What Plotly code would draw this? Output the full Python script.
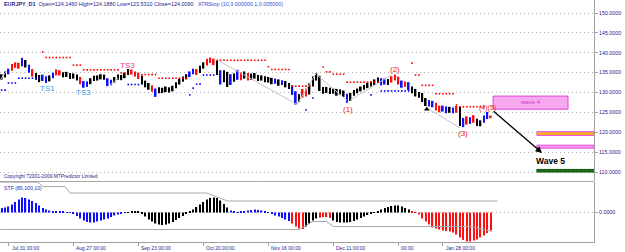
import plotly.graph_objects as go

# ---------------- data ----------------
tick_idx = [2, 21, 40, 59, 78, 97, 116, 129]
tick_labels = ["Jul 31 00:00", "Aug 27 00:00", "Sep 23 00:00", "Oct 20 00:00",
               "Nov 16 00:00", "Dec 11 00:00", "00:00", "Jan 28 00:00"]

price_ticks = [110, 115, 120, 125, 130, 135, 140, 145, 150]

highs = [134.6,135.3,136.0,137.2,137.6,137.5,138.7,138.2,137.0,135.9,
         134.9,134.4,134.5,134.1,134.3,135.0,135.8,135.6,135.1,135.2,
         134.9,134.8,134.5,133.9,132.9,132.8,133.6,134.2,134.3,134.6,
         134.5,133.6,133.2,133.9,134.5,134.4,135.0,135.9,135.8,135.3,
         135.0,134.2,133.0,132.4,131.8,131.0,131.3,131.2,131.5,131.3,
         131.7,132.6,133.4,134.0,134.6,135.3,136.0,135.9,136.7,137.6,
         138.5,138.8,138.5,137.9,135.6,135.6,135.2,134.6,134.8,135.7,
         135.1,135.3,134.9,134.8,134.9,134.4,134.3,134.1,133.9,133.7,
         133.5,133.3,133.1,132.9,132.4,131.8,130.3,129.6,130.9,131.0,
         132.3,134.0,134.9,134.2,131.4,131.4,131.2,131.0,130.9,130.8,
         130.5,129.7,129.9,130.6,131.0,131.5,131.9,132.4,132.8,133.3,
         133.8,133.6,133.5,133.4,134.1,134.5,134.0,133.0,132.8,132.6,
         131.5,130.9,130.1,129.9,128.6,128.1,127.9,127.4,126.7,126.7,
         126.5,126.4,126.2,126.6,126.4,123.6,124.0,123.8,124.3,123.4,
         123.0,124.2,125.1,124.188]
lows = [133.2,133.8,134.6,135.5,136.2,136.0,136.6,136.3,135.0,134.0,
        133.2,132.6,132.9,132.4,132.8,133.6,134.3,134.3,133.8,133.9,
        133.4,133.5,133.0,132.1,131.2,131.4,132.1,132.9,133.0,133.3,
        133.2,131.6,131.8,132.5,133.2,133.1,133.6,134.4,134.5,134.0,
        133.4,132.0,131.3,130.7,130.2,128.9,129.8,129.9,130.1,130.0,
        130.3,131.1,132.0,132.7,133.3,133.9,134.6,134.4,134.9,136.0,
        136.8,137.4,136.9,134.4,132.0,132.6,131.4,131.9,132.7,133.2,
        133.1,133.5,133.0,133.2,133.5,132.9,133.0,132.6,132.5,132.1,
        132.2,131.7,131.9,131.3,130.9,129.4,127.0,127.6,128.7,129.0,
        129.5,131.5,133.0,130.4,129.7,129.9,129.6,129.7,129.2,129.4,
        128.9,127.4,127.9,129.2,129.8,130.3,130.7,131.1,131.5,131.9,
        132.4,131.8,132.0,131.9,132.5,133.0,132.0,131.2,131.4,130.6,
        129.8,129.0,128.7,127.6,126.6,126.5,126.3,125.5,125.0,125.2,
        124.8,124.9,124.8,124.9,121.6,121.3,121.9,122.1,122.4,121.6,
        121.5,122.4,123.3,123.531]
# bar state: k = neutral, r = down, b = up
bar_state = list("kkbrrrbkbr" "kkbbkbrrkk" "kkkrbbkkkk" "kbbkkkkkrr" "rkkkrbkkkk"
                 "kkkkkbbrkk" "rrrkbkkbkb" "rkrkkkkkkk" "bkbkkbbkrr" "kkkkkkkkkk"
                 "kbkkkkkkkk" "kbbkrrrbrb" "kkkkkbbrrb" "bkbrkbrbrk" "kbbr")

# ATR stop levels: (first bar, last bar, level)
stop_down = [(12, 12, 140.2), (13, 20, 138.8), (21, 23, 136.9), (24, 34, 135.7),
             (35, 36, 134.9), (41, 45, 134.5), (46, 54, 133.6), (63, 77, 138.1),
             (78, 78, 136.5), (79, 84, 135.8), (85, 90, 131.6), (94, 94, 136.4),
             (95, 96, 135.2), (97, 100, 134.6), (101, 110, 132.6), (120, 120, 137.4),
             (121, 122, 134.4), (123, 126, 131.8), (127, 132, 129.7), (133, 133, 126.9),
             (134, 141, 126.4)]
stop_up = [(0, 1, 130.6), (2, 4, 132.4), (5, 11, 133.6), (37, 40, 132.0),
           (55, 55, 129.4), (56, 56, 131.1), (57, 58, 132.1), (59, 62, 134.4),
           (89, 89, 125.6), (91, 91, 128.6), (108, 108, 129.4), (111, 119, 130.4)]

# STF oscillator
stf = [4.5,5,6,8,10.5,13,15,14.5,13,11.5,
       9.5,7,4.5,3,2,1.5,1,0.8,0.6,0.5,
       -0.5,-1.5,-3.5,-6,-8,-9.5,-10,-10,-9,-8,
       -7,-6,-4.5,-3,-2,-1,-0.5,0.5,0.8,1.2,
       1,-1.5,-4,-7,-9,-11,-12,-12.5,-12,-11,
       -9.5,-7.5,-5.5,-3.5,-1.5,1,3,5.5,8,10.5,
       13,14.5,15,14.5,12,8.5,5,2,1,0.5,
       1,1.5,2,2.5,3,2.5,2,1.5,0.5,-1.5,
       -3,-4,-5.5,-7,-8.5,-11,-14,-16,-16.5,-14,
       -11,-8,-6,-5,-4.5,-4.5,-5.5,-8,-9.5,-10,
       -10,-10,-9.5,-8.5,-7,-5.5,-4,-2.5,-1,0.5,
       1.5,3,4.5,5.5,6.5,7,7,6,4.5,3,
       1,-0.5,-2,-6,-9,-12,-15,-16,-17,-18,
       -18.5,-19,-20,-22,-25,-27.5,-29,-29,-28,-27,
       -25,-23,-20.5,-18]
stf_state = list("b" * 37 + "k" * 30 + "b" * 18 + "r" * 4 + "k" * 4 + "r" * 4 + "k" * 23 + "r" * 24)
stf_upper = [(-0.4, 30.3), (10.6, 30.3), (12.1, 26), (18.5, 26), (20, 19.5), (60, 19.5), (66, 11.5), (145, 11.5)]
stf_lower = [(-0.4, -17), (87, -17), (89, -13), (91, -9), (95, -9), (97, -14), (137, -14), (140, -16.5), (143.5, -19)]

# wave connector lines (bar, price)
wave_lines = [[(-0.4, 133.1), (1.6, 135.7)],
              [(31.7, 131.9), (34, 133.6)],
              [(63, 138.2), (86.4, 127.0), (92, 134.9)],
              [(92.2, 134.4), (101, 128.0)],
              [(101.9, 128.1), (114, 134.4)],
              [(124.4, 126.1), (134, 121.1)]]

# ---------------- figure ----------------
NAVY = "#23238c"
FONT = "Liberation Sans"
XR = [-0.485, 173.2]
n = len(highs)
idx = list(range(n))
state_color = {"k": "#000000", "r": "#ff1010", "b": "#1010ff"}

fig = go.Figure()

for pts in wave_lines:
    fig.add_trace(go.Scatter(x=[p[0] for p in pts], y=[p[1] for p in pts], mode="lines",
                             line=dict(color="#c4c4c4", width=1), xaxis="x", yaxis="y",
                             hoverinfo="skip"))

fig.add_trace(go.Bar(x=idx, y=[h - l for h, l in zip(highs, lows)], base=lows,
                     width=0.5, marker=dict(color=[state_color[s] for s in bar_state],
                                            line=dict(width=0)),
                     xaxis="x", yaxis="y"))


def expand(segs):
    xs, ys = [], []
    for a, b, v in segs:
        for i in range(a, b + 1):
            xs.append(i)
            ys.append(v)
    return xs, ys


for segs, col in [(stop_down, "#ff0000"), (stop_up, "#0000ff")]:
    xs, ys = expand(segs)
    fig.add_trace(go.Scatter(x=xs, y=ys, mode="markers",
                             marker=dict(symbol="square", size=1.6, color=col, line=dict(width=0)),
                             xaxis="x", yaxis="y"))

fig.add_trace(go.Scatter(x=[124.3], y=[125.8], mode="markers",
                         marker=dict(symbol="triangle-up", size=5, color="black"),
                         xaxis="x", yaxis="y"))

fig.add_trace(go.Bar(x=idx, y=stf, width=0.36,
                     marker=dict(color=[state_color[s] for s in stf_state], line=dict(width=0)),
                     xaxis="x2", yaxis="y2"))
for pts in (stf_upper, stf_lower):
    fig.add_trace(go.Scatter(x=[p[0] for p in pts], y=[p[1] for p in pts], mode="lines",
                             line=dict(color="#a8a8a8", width=1), xaxis="x2", yaxis="y2"))

shapes = [
    dict(type="rect", xref="x", yref="y", x0=143.7, x1=165.6, y0=125.8, y1=129.1,
         fillcolor="#f7a8ef", line=dict(color="#e040d8", width=1)),
    dict(type="rect", xref="x", yref="y", x0=156.5, x1=173.2, y0=119.2, y1=120.15,
         fillcolor="#f2b028", line=dict(color="#ec50e4", width=1)),
    dict(type="rect", xref="x", yref="y", x0=156.5, x1=173.2, y0=116.0, y1=116.75,
         fillcolor="#f59cee", line=dict(color="#e848e0", width=1)),
    dict(type="rect", xref="x", yref="y", x0=156.5, x1=173.2, y0=110.0, y1=110.65,
         fillcolor="#1d6e1d", line=dict(color="#0f5510", width=1)),
    dict(type="line", xref="paper", yref="paper", x0=0, x1=1, y0=0.2500, y1=0.2500,
         line=dict(color="#a8a8a8", width=1)),
]

ann = []
ann.append(dict(xref="paper", yref="paper", x=0.003, y=1 - 3.5 / 242, xanchor="left", yanchor="middle",
                showarrow=False, font=dict(family=FONT, size=5.4, color=NAVY),
                text="<b>EURJPY_D1</b>&nbsp;&nbsp;Open=124.1460 High=124.1880 Low=123.5310 Close=124.0090"
                     "&nbsp;&nbsp;&nbsp;<span style='color:#3050d0'>ATRStop (10,3.000000,1,0.005000)</span>"))
ann.append(dict(xref="paper", yref="paper", x=0.003, y=1 - 176 / 242, xanchor="left", yanchor="middle",
                showarrow=False, font=dict(family=FONT, size=4.9, color=NAVY),
                text="Copyright ?2001-2009 MTPredictor Limited"))
ann.append(dict(xref="paper", yref="paper", x=0.003, y=1 - 187.5 / 242, xanchor="left", yanchor="middle",
                showarrow=False, font=dict(family=FONT, size=5.2, color="#2a2ab0"),
                text="STF (80,100,10)"))
for t, l in zip(tick_idx, tick_labels):
    ann.append(dict(xref="x2", yref="paper", x=t, y=-5.5 / 242, xanchor="left", yanchor="middle",
                    xshift=1, showarrow=False, font=dict(family=FONT, size=5, color=NAVY), text=l))

labels = [("TS1", 13.5, 131.1, "#3aa0ea", 8), ("TS3", 23.8, 129.9, "#3aa0ea", 8),
          ("TS3", 36.9, 136.7, "#f0407f", 8), ("(1)", 101.3, 125.8, "#e82020", 8),
          ("(2)", 115.0, 135.7, "#e82020", 8), ("(3)", 134.9, 119.6, "#e82020", 8),
          ("(4)(5)", 142.2, 126.1, "#e82020", 7)]
for t, x, y, c, s in labels:
    ann.append(dict(xref="x", yref="y", x=x, y=y, showarrow=False, text=t,
                    font=dict(family=FONT, size=s, color=c)))
ann.append(dict(xref="x", yref="y", x=154.6, y=127.5, showarrow=False, text="wave 4",
                font=dict(family=FONT, size=6, color="#d040c0")))
ann.append(dict(xref="x", yref="y", x=160.6, y=112.8, showarrow=False, text="<b>Wave 5</b>",
                font=dict(family=FONT, size=8.5, color="black")))
ann.append(dict(xref="x", yref="y", axref="x", ayref="y", x=158, y=114.8, ax=143.4, ay=125.6,
                text="", showarrow=True, arrowhead=2, arrowsize=1, arrowwidth=1.3, arrowcolor="black"))

fig.update_layout(
    width=625, height=252, margin=dict(l=0, r=31, t=0, b=10),
    paper_bgcolor="white", plot_bgcolor="white", showlegend=False,
    barmode="overlay", shapes=shapes, annotations=ann,
    xaxis=dict(domain=[0, 1], range=XR, anchor="y", showticklabels=False, showgrid=False,
               zeroline=False, ticks=""),
    yaxis=dict(domain=[1 - 181 / 242, 1], range=[107.74, 153.27], side="right", anchor="x",
               tickvals=price_ticks, ticktext=["%.4f" % v for v in price_ticks],
               tickfont=dict(family=FONT, size=5.3, color=NAVY), ticks="outside", ticklen=3,
               tickcolor="#a0a0a0", showgrid=True, gridcolor="#b0b0b0", griddash="1px,3px",
               showline=True, linecolor="#a0a0a0", zeroline=False),
    xaxis2=dict(domain=[0, 1], range=XR, anchor="y2", tickvals=tick_idx, showticklabels=False,
                ticks="outside", ticklen=3, tickcolor="#a0a0a0", showgrid=False, zeroline=False,
                showline=True, linecolor="#a0a0a0"),
    yaxis2=dict(domain=[0, 60 / 242], range=[-29.5, 30.5], side="right", anchor="x2",
                tickvals=[0], ticktext=["0.0000"], tickfont=dict(family=FONT, size=5.3, color=NAVY),
                ticks="outside", ticklen=3, tickcolor="#a0a0a0", showgrid=True, gridcolor="#b0b0b0",
                griddash="1px,3px", showline=True, linecolor="#a0a0a0", zeroline=False),
)

fig.write_html("out.html")
